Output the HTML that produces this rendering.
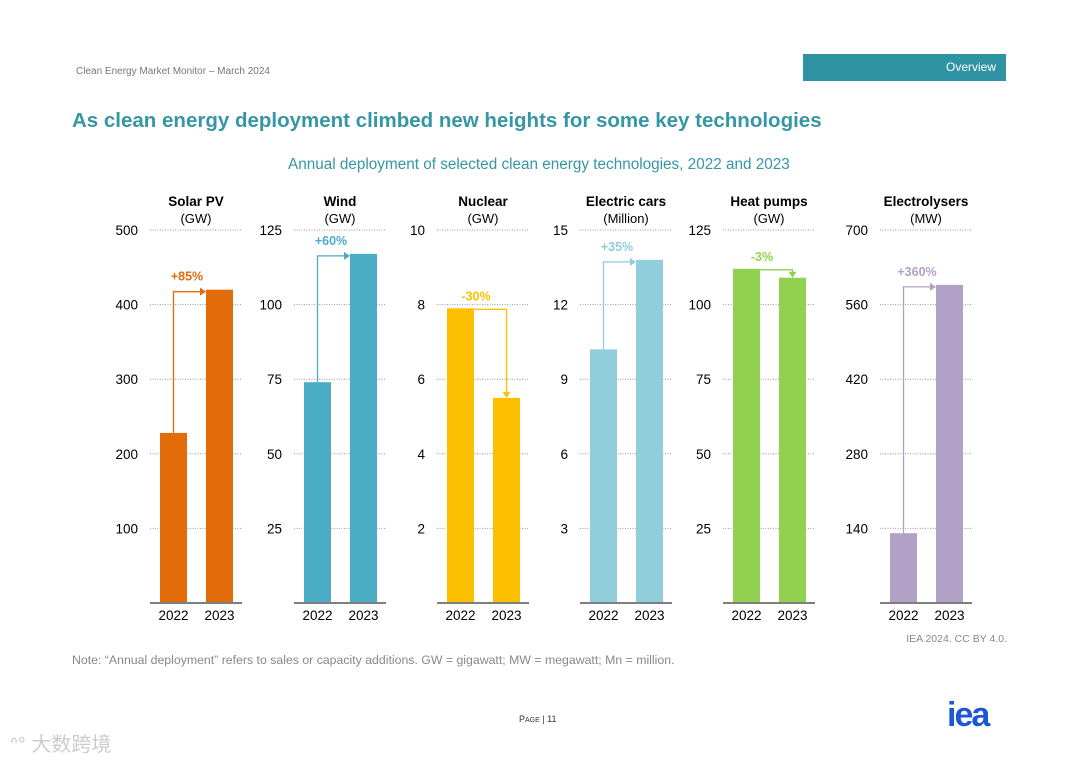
<!DOCTYPE html>
<html><head><meta charset="utf-8">
<style>
body{margin:0;width:1080px;height:763px;background:#fff;font-family:"Liberation Sans",sans-serif;position:relative;overflow:hidden}
.abs{position:absolute;white-space:nowrap}
</style></head>
<body>
<div class="abs" style="left:76px;top:66px;font-size:10px;color:#777">Clean Energy Market Monitor – March 2024</div>
<div class="abs" style="left:803px;top:54px;width:203px;height:27px;background:#2f93a3;color:#fff;font-size:12px;text-align:right;line-height:27px;box-sizing:border-box;padding-right:10px">Overview</div>
<div class="abs" style="left:72px;top:109px;font-size:20.5px;font-weight:bold;color:#3596a5">As clean energy deployment climbed new heights for some key technologies</div>
<div class="abs" style="left:288px;top:156px;font-size:15.3px;color:#3596a5">Annual deployment of selected clean energy technologies, 2022 and 2023</div>
<svg id="chart" width="1080" height="763" style="position:absolute;left:0;top:0" font-family="Liberation Sans, sans-serif"></svg>
<div class="abs" style="right:73px;top:633px;font-size:10.5px;color:#888">IEA 2024. CC BY 4.0.</div>
<div class="abs" style="left:72px;top:653px;font-size:12.3px;color:#888">Note: “Annual deployment” refers to sales or capacity additions. GW = gigawatt; MW = megawatt; Mn = million.</div>
<div class="abs" style="left:519px;top:714px;font-size:9px;color:#333">P<span style="font-size:7px">AGE</span> | 11</div>
<div class="abs" style="left:947px;top:696px;font-size:34px;font-weight:bold;color:#1d57d6;letter-spacing:-2px">iea</div>
<div class="abs" style="left:10px;top:728px;font-size:20px;color:#ccc;font-family:'Liberation Sans','Noto Sans CJK SC',sans-serif">ᐢ° 大数跨境</div>
<script>
const titles=["Solar PV","Wind","Nuclear","Electric cars","Heat pumps","Electrolysers"];
const units=["(GW)","(GW)","(GW)","(Million)","(GW)","(MW)"];
const maxima=[500,125,10,15,125,700];
const ticks=[[100,200,300,400,500],[25,50,75,100,125],[2,4,6,8,10],[3,6,9,12,15],[25,50,75,100,125],[140,280,420,560,700]];
const v2022=[228,74,7.9,10.2,112,131];
const v2023=[420,117,5.5,13.8,109,597];
const changes=["+85%","+60%","-30%","+35%","-3%","+360%"];
const colors=["#e36c0a","#4bacc6","#fcc000","#92cddc","#92d050","#b2a1c7"];
const years=["2022","2023"];
const svg=document.getElementById('chart');
const NS="http://www.w3.org/2000/svg";
function mk(t,a,p){const e=document.createElementNS(NS,t);for(const k in a)e.setAttribute(k,a[k]);(p||svg).appendChild(e);return e;}
const base=603,top0=230;
const panelX=[150,294,437,580,723,880];
titles.forEach((t,i)=>{
  const x0=panelX[i],w=92;
  const y=v=>base-(v/maxima[i])*(base-top0);
  const g=mk('g',{});
  
  
  const tt=mk('text',{x:x0+w/2,y:206,'text-anchor':'middle','font-size':13.5,'font-weight':'bold',fill:'#000'},g);tt.textContent=t;
  
  const ut=mk('text',{x:x0+w/2,y:223,'text-anchor':'middle','font-size':13,fill:'#000'},g);ut.textContent=units[i];
  
  ticks[i].forEach(v=>{
    const l=mk('line',{x1:x0,x2:x0+w,y1:y(v),y2:y(v),stroke:'#999','stroke-dasharray':'1,1.5','stroke-width':1},g);
    
    const tx=mk('text',{x:x0-12,y:y(v)+5,'text-anchor':'end','font-size':13.5,fill:'#000'},g);tx.textContent=v;
    
  });
  const vals=[v2022[i],v2023[i]];const bx=[x0+10,x0+56];
  vals.forEach((v,j)=>{
    const r=mk('rect',{x:bx[j],y:y(v),width:27,height:base-y(v),fill:colors[i]},g);
    
    const yl=mk('text',{x:bx[j]+13.5,y:620,'text-anchor':'middle','font-size':13.5,fill:'#000'},g);yl.textContent=years[j];
    
  });
  const ax=mk('line',{x1:x0,x2:x0+w,y1:base,y2:base,stroke:'#7f7f7f','stroke-width':2},g);
  
  const y1=y(vals[0]),y2=y(vals[1]);
  let d,tip,ly;
  if(vals[1]>=vals[0]){
    const ya=y2+2;d=`M${bx[0]+13.5},${y1} V${ya} H${bx[1]-5}`;
    tip=`M${bx[1]},${ya} l-6,-4 v8 z`;ly=ya-11;
  }else{
    const xa=bx[1]+13.5;d=`M${bx[0]+27},${y1+1} H${xa} V${y2-5}`;
    tip=`M${xa},${y2} l-4,-6 h8 z`;ly=y1-8;
  }
  const p=mk('path',{d:d,fill:'none',stroke:colors[i],'stroke-width':1.3},g);
  
  const ph=mk('path',{d:tip,fill:colors[i]},g);
  
  const ct=mk('text',{x:bx[0]+27+(vals[1]>=vals[0]?0:2),y:ly,'text-anchor':'middle','font-size':12.5,'font-weight':'bold',fill:colors[i]},g);ct.textContent=changes[i];
  
});
</script>
</body></html>
